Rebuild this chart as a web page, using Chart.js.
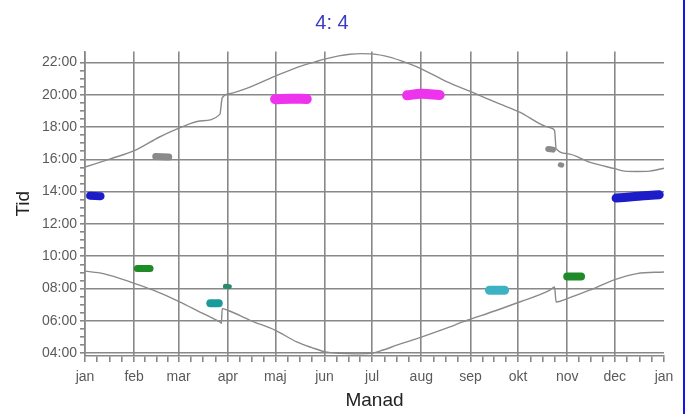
<!DOCTYPE html>
<html>
<head>
<meta charset="utf-8">
<script src="https://cdn.jsdelivr.net/npm/chart.js@4/dist/chart.umd.min.js"></script>
<style>
  html, body { margin: 0; padding: 0; background: #fff; }
  #wrap { position: relative; width: 685px; height: 414px; }
  #edge { position: absolute; left: 683px; top: 0; width: 2px; height: 414px; background: #1414ee; }
</style>
</head>
<body>
<div id="wrap">
  <canvas id="c" width="685" height="414"></canvas>
  <div id="edge"></div>
</div>
<script>
// Month axis: day-of-year positions and their labels
const monthLabels = ['jan','feb','mar','apr','maj','jun','jul','aug','sep','okt','nov','dec','jan'];
const monthStarts = [0, 31, 59, 90, 120, 151, 181, 212, 243, 273, 304, 334, 365];
const hourTicks = [4, 6, 8, 10, 12, 14, 16, 18, 20, 22];

// Sunset (upper curve), hours, with the summer-time steps in March and October
const sunsetDays  = [0, 16, 31.5, 47, 60, 72.5, 85, 86.5, 91, 104, 121, 137, 144, 151, 160, 167, 174, 181, 192, 199, 212, 228, 244, 261, 274, 293, 296, 297, 304, 318, 334, 340, 348, 356, 365];
const sunsetTimes = [15.52, 16.03, 16.55, 17.38, 17.96, 18.37, 18.78, 19.8, 20.06, 20.47, 21.19, 21.8, 22.0, 22.2, 22.4, 22.5, 22.54, 22.52, 22.32, 22.1, 21.6, 20.8, 20.15, 19.44, 18.92, 17.96, 17.79, 16.66, 16.35, 15.83, 15.42, 15.27, 15.25, 15.27, 15.45];

// Sunrise (lower curve), hours
const sunriseDays  = [0, 11.5, 31.5, 43, 60, 72.5, 81, 85, 86, 86.5, 90, 104, 120, 133.5, 143, 151, 161, 170, 180, 188, 196.5, 212, 230, 238, 244, 259.6, 274, 293, 296, 297, 304, 318, 334, 348, 365];
const sunriseTimes = [9.08, 8.93, 8.31, 7.9, 7.17, 6.55, 6.14, 5.94, 5.86, 6.76, 6.66, 6.04, 5.42, 4.7, 4.35, 4.1, 3.99, 3.96, 3.99, 4.2, 4.5, 5.0, 5.63, 5.94, 6.14, 6.66, 7.17, 7.9, 8.1, 7.17, 7.38, 7.9, 8.56, 8.93, 9.03];

// Observation marks: day-of-year and clock time
const janBlueDays = [3.2, 9.8],        janBlueTimes = [13.75, 13.72];
const febGreenDays = [33, 41],         febGreenTimes = [9.25, 9.25];
const febGrayDays = [44.6, 52.8],      febGrayTimes = [16.18, 16.14];
const marTealDays = [79, 84.3],        marTealTimes = [7.09, 7.09];
const aprGreenDays = [88.5, 91],       aprGreenTimes = [8.14, 8.12];
const majPinkDays = [119.8, 130, 139.8], majPinkTimes = [19.72, 19.75, 19.73];
const augPinkDays = [203, 212, 223.6], augPinkTimes = [19.96, 20.05, 19.98];
const sepTealDays = [255, 264.5],      sepTealTimes = [7.9, 7.9];
const oktGrayDays = [292, 295],        oktGrayTimes = [16.64, 16.6];
const oktGray2Days = [299.6, 300.6],   oktGray2Times = [15.66, 15.64];
const novGreenDays = [304, 312.7],     novGreenTimes = [8.75, 8.75];
const decBlueDays = [334.8, 345, 355, 362], decBlueTimes = [13.6, 13.68, 13.76, 13.8];

const pts = (xs, ys) => xs.map((x, i) => ({ x: x, y: ys[i] }));

const curve = (xs, ys) => ({
  data: pts(xs, ys),
  borderColor: '#8a8a8a',
  borderWidth: 1.4,
  pointRadius: 0,
  cubicInterpolationMode: 'monotone',
  order: 2
});

const mark = (xs, ys, color, width) => ({
  data: pts(xs, ys),
  borderColor: color,
  borderWidth: width,
  borderCapStyle: 'round',
  borderJoinStyle: 'round',
  pointRadius: 0,
  tension: 0.4,
  order: 1
});

const gridGray = '#888888';
const fontFamily = "'Liberation Sans', Arial, sans-serif";
const pad2 = n => (n < 10 ? '0' : '') + n;

new Chart(document.getElementById('c'), {
  type: 'line',
  data: {
    datasets: [
      curve(sunsetDays, sunsetTimes),
      curve(sunriseDays, sunriseTimes),
      mark(janBlueDays, janBlueTimes, '#1c1cc8', 8),
      mark(febGreenDays, febGreenTimes, '#1e8a28', 7),
      mark(febGrayDays, febGrayTimes, '#8a8a8a', 7),
      mark(marTealDays, marTealTimes, '#1a9a9a', 8),
      mark(aprGreenDays, aprGreenTimes, '#2a8a70', 5),
      mark(majPinkDays, majPinkTimes, '#ee33ee', 10),
      mark(augPinkDays, augPinkTimes, '#ee33ee', 10),
      mark(sepTealDays, sepTealTimes, '#3cb2c2', 9),
      mark(oktGrayDays, oktGrayTimes, '#8a8a8a', 6),
      mark(oktGray2Days, oktGray2Times, '#8a8a8a', 5),
      mark(novGreenDays, novGreenTimes, '#1e8a28', 8),
      mark(decBlueDays, decBlueTimes, '#1c1cc8', 9)
    ]
  },
  options: {
    responsive: false,
    animation: false,
    events: [],
    layout: { padding: { left: 0, right: 21, top: 0, bottom: 0 } },
    plugins: {
      legend: { display: false },
      tooltip: { enabled: false },
      title: {
        display: true,
        text: '4: 4',
        color: '#3b3bc6',
        font: { family: fontFamily, size: 20, weight: 'normal' },
        padding: { top: 11, bottom: 16.5 }
      }
    },
    scales: {
      x: {
        type: 'linear',
        min: 0,
        max: 365,
        afterFit: s => { s.height = 58; },
        afterBuildTicks: s => {
          const t = [];
          for (let i = 0; i < 12; i++) {
            const a = monthStarts[i], len = monthStarts[i + 1] - a;
            t.push({ value: a, major: true });
            for (let k = 1; k < 4; k++) t.push({ value: a + k * len / 4 });
          }
          t.push({ value: 365, major: true });
          s.ticks = t;
        },
        grid: {
          color: ctx => {
            const v = ctx.tick ? ctx.tick.value : -1;
            return (monthStarts.indexOf(v) >= 0 && v !== 365) ? gridGray : 'rgba(0,0,0,0)';
          },
          lineWidth: 1.6,
          tickColor: gridGray,
          tickLength: 6,
          drawTicks: true
        },
        border: { display: true, color: gridGray, width: 1.6 },
        ticks: {
          autoSkip: false,
          maxRotation: 0,
          padding: 7,
          color: '#5a5a5a',
          font: { family: fontFamily, size: 14 },
          callback: v => {
            const i = monthStarts.indexOf(v);
            return i >= 0 ? monthLabels[i] : '';
          }
        },
        title: {
          display: true,
          text: 'Manad',
          color: '#222',
          font: { family: fontFamily, size: 19 },
          padding: { top: 0, bottom: 2 }
        }
      },
      y: {
        type: 'linear',
        min: 3.83,
        max: 22.67,
        afterFit: s => { s.width = 85; },
        afterBuildTicks: s => {
          const t = [];
          for (let h = hourTicks[0]; h <= hourTicks[hourTicks.length - 1]; h += 0.5) {
            t.push({ value: h, major: hourTicks.indexOf(h) >= 0 });
          }
          s.ticks = t;
        },
        grid: {
          color: ctx => (ctx.tick && hourTicks.indexOf(ctx.tick.value) >= 0) ? gridGray : 'rgba(0,0,0,0)',
          lineWidth: 1.6,
          tickColor: gridGray,
          tickLength: 5
        },
        border: { display: true, color: gridGray, width: 1.6 },
        ticks: {
          autoSkip: false,
          padding: 3,
          color: '#5a5a5a',
          font: { family: fontFamily, size: 14 },
          callback: v => hourTicks.indexOf(v) >= 0 ? pad2(v) + ':00' : ''
        },
        title: {
          display: true,
          text: 'Tid',
          color: '#222',
          font: { family: fontFamily, size: 19 },
          padding: { top: 12, bottom: 0 }
        }
      }
    }
  }
});
</script>
</body>
</html>
